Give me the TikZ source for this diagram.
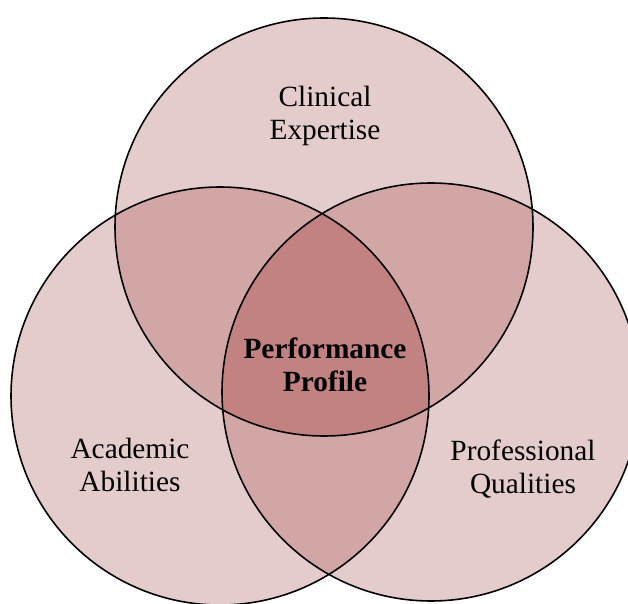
\documentclass[tikz,border=0pt]{standalone}
\usepackage{fontspec}
\setmainfont{Liberation Serif}
\usepackage{xcolor}
\usepackage{tikz}
\definecolor{vennone}{HTML}{E4CCCD}
\definecolor{venntwo}{HTML}{D3A6A6}
\definecolor{vennall}{HTML}{C38282}

\begin{document}
\begin{tikzpicture}[x=0.02cm,y=-0.02cm,
	ring/.style={draw=black,line width=0.9pt},
	lbl/.style={align=center,font=\fontsize{16.7}{19}\selectfont}]
	 \useasboundingbox (0,0) rectangle (628,604);
	 \def\rad{209}
	 \coordinate (clin) at (324,227);
	 \coordinate (acad) at (220,396);
	 \coordinate (prof) at (431,392);
	 % single sets
	 \fill[vennone] (clin) circle (\rad);
	 \fill[vennone] (acad) circle (\rad);
	 \fill[vennone] (prof) circle (\rad);
	 % pairwise overlaps
	 \begin{scope}
	 \clip (clin) circle (\rad);
	 \fill[venntwo] (acad) circle (\rad);
	 \fill[venntwo] (prof) circle (\rad);
	 \end{scope}
	 \begin{scope}
	 \clip (acad) circle (\rad);
	 \fill[venntwo] (prof) circle (\rad);
	 \end{scope}
	 % centre
	 \begin{scope}
	 \clip (clin) circle (\rad);
	 \clip (acad) circle (\rad);
	 \fill[vennall] (prof) circle (\rad);
	 \end{scope}
	 \draw[ring] (clin) circle (\rad);
	 \draw[ring] (acad) circle (\rad);
	 \draw[ring] (prof) circle (\rad);
	 \node[lbl] (clinlbl) at (325,116) {Clinical\\Expertise};
	 \node[lbl] (acadlbl) at (130,465) {Academic\\Abilities};
	 \node[lbl] (proflbl) at (523,469) {Professional\\Qualities};
	 \node[lbl,font=\fontsize{16.7}{19}\selectfont\bfseries] (perf) at (325,365) {Performance\\Profile};
\end{tikzpicture}
\end{document}
